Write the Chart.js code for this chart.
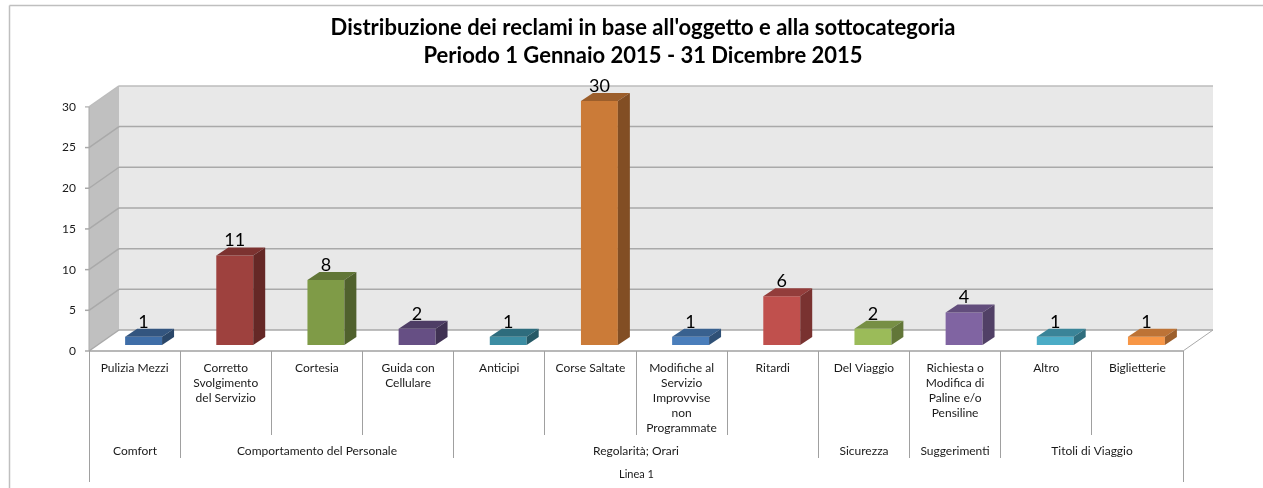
<!DOCTYPE html>
<html>
<head>
<meta charset="utf-8">
<title>Distribuzione dei reclami</title>
<script src="https://cdn.jsdelivr.net/npm/chart.js@4/dist/chart.umd.min.js"></script>
<style>
    html, body { margin: 0; padding: 0; background: #fff; overflow: hidden; }
    canvas { display: block; }
</style>
</head>
<body>
<canvas id="chart" width="1263" height="488"></canvas>
<script>
// Chart data
const categories = [
    ['Pulizia Mezzi'],
    ['Corretto', 'Svolgimento', 'del Servizio'],
    ['Cortesia'],
    ['Guida con', 'Cellulare'],
    ['Anticipi'],
    ['Corse Saltate'],
    ['Modifiche al', 'Servizio', 'Improvvise', 'non', 'Programmate'],
    ['Ritardi'],
    ['Del Viaggio'],
    ['Richiesta o', 'Modifica di', 'Paline e/o', 'Pensiline'],
    ['Altro'],
    ['Biglietterie']
];
const reclami = [1, 11, 8, 2, 1, 30, 1, 6, 2, 4, 1, 1];
const groupNames = ['Comfort', 'Comportamento del Personale', 'Regolarità; Orari', 'Sicurezza', 'Suggerimenti', 'Titoli di Viaggio'];
const groupSizes = [1, 3, 4, 1, 1, 2];
const outerLabel = 'Linea 1';
const titleLines = ["Distribuzione dei reclami in base all'oggetto e alla sottocategoria", 'Periodo 1 Gennaio 2015 - 31 Dicembre 2015'];

// Bar colours: front, top, side
const barFront = ['#3F6EA8', '#9E413E', '#7F9B47', '#664F84', '#3C8DA3', '#CB7B38', '#4A7EBB', '#C0504D', '#9BBB59', '#8064A2', '#4BACC6', '#F79646'];
const barTop = ['#33557F', '#7C3230', '#617637', '#4E3D65', '#2E6C7D', '#9C5E2B', '#39618F', '#933D3B', '#778F44', '#624D7C', '#3A8498', '#BD7336'];
const barSide = ['#2A4769', '#652826', '#50612D', '#403253', '#265966', '#824E24', '#2F5076', '#793230', '#627638', '#514066', '#2F6D7D', '#9C5F2C'];

const FONT = 'Lato, Carlito, sans-serif';
const WALL_DX = 30, WALL_DY = -21;   // back wall offset from the front plane
const BAR_DX = 9, BAR_DY = -6;       // bars stand in the middle of the floor
const SIDE_DX = 12, SIDE_DY = -8;    // depth of one bar
const LINE = '#a0a0a0';

function poly(ctx, points, fill) {
    ctx.beginPath();
    points.forEach((p, i) => i ? ctx.lineTo(p[0], p[1]) : ctx.moveTo(p[0], p[1]));
    ctx.closePath();
    ctx.fillStyle = fill;
    ctx.fill();
}

function line(ctx, x1, y1, x2, y2, color, width) {
    ctx.beginPath();
    ctx.moveTo(x1, y1);
    ctx.lineTo(x2, y2);
    ctx.strokeStyle = color;
    ctx.lineWidth = width;
    ctx.stroke();
}

/**
 * Excel style 3D box: walls, floor, grid and the faces of each bar
 */
const box3d = {
    id: 'box3d',
    afterLayout(chart) {
        // title sits over the whole plot, not over the canvas
        chart.titleBlock.left += 47;
        chart.titleBlock.right += 47;
    },
    beforeDraw(chart) {
        const ctx = chart.ctx;
        line(ctx, 9.5, 5.5, 1263, 5.5, '#bfbfbf', 1.5);
        line(ctx, 9.5, 5.5, 9.5, 488, '#bfbfbf', 1.5);
    },
    beforeDatasetsDraw(chart) {
        const ctx = chart.ctx;
        const { x: xs, y: ys } = chart.scales;
        const l = xs.left, r = xs.right, t = ys.top, b = ys.bottom;

        poly(ctx, [[l + WALL_DX, t + WALL_DY], [r + WALL_DX, t + WALL_DY], [r + WALL_DX, b + WALL_DY], [l + WALL_DX, b + WALL_DY]], '#e8e8e8');
        poly(ctx, [[l, t], [l + WALL_DX, t + WALL_DY], [l + WALL_DX, b + WALL_DY], [l, b]], '#c0c0c0');
        poly(ctx, [[l, b], [l + WALL_DX, b + WALL_DY], [r + WALL_DX, b + WALL_DY], [r, b]], '#ffffff');

        ys.ticks.forEach(tick => {
            const y = ys.getPixelForValue(tick.value);
            const shade = tick.value === 30 ? '#bdbdbd' : '#a9a9a9';
            line(ctx, l + WALL_DX, y + WALL_DY, r + WALL_DX, y + WALL_DY, shade, 1.5);
            line(ctx, l, y, l + WALL_DX, y + WALL_DY, shade, 1.5);
            line(ctx, l - 4, y, l, y, shade, 1.5);
        });
        line(ctx, l, t, l, b, '#a9a9a9', 1);
        line(ctx, r, b, r + WALL_DX, b + WALL_DY, '#a9a9a9', 1);

        // bars are drawn by the library, moved back onto the floor
        ctx.save();
        ctx.translate(BAR_DX, BAR_DY);
    },
    afterDatasetsDraw(chart) {
        const ctx = chart.ctx;
        ctx.restore();

        chart.getDatasetMeta(0).data.forEach((bar, i) => {
            const p = bar.getProps(['x', 'y', 'base', 'width'], true);
            const x1 = p.x - p.width / 2 + BAR_DX, x2 = p.x + p.width / 2 + BAR_DX;
            const top = p.y + BAR_DY, base = p.base + BAR_DY;
            poly(ctx, [[x1, top], [x1 + SIDE_DX, top + SIDE_DY], [x2 + SIDE_DX, top + SIDE_DY], [x2, top]], barTop[i]);
            poly(ctx, [[x2, top], [x2 + SIDE_DX, top + SIDE_DY], [x2 + SIDE_DX, base + SIDE_DY], [x2, base]], barSide[i]);

            ctx.fillStyle = '#000';
            ctx.font = '18px ' + FONT;
            ctx.textAlign = 'center';
            ctx.textBaseline = 'middle';
            ctx.fillText(String(reclami[i]), p.x + BAR_DX, top - 15);
        });
    },
    afterDraw(chart) {
        const ctx = chart.ctx;
        const xs = chart.scales.x;
        const b = chart.scales.y.bottom;
        const edge = i => Math.floor(xs.getPixelForValue(i - 0.5)) + 0.5;

        line(ctx, xs.left, b, xs.right, b, LINE, 1.5);

        for (let i = 0; i <= categories.length; i++) line(ctx, edge(i), b, edge(i), 435, LINE, 1);

        ctx.fillStyle = '#1a1a1a';
        ctx.font = '12px ' + FONT;
        ctx.textAlign = 'center';
        ctx.textBaseline = 'middle';

        let start = 0;
        groupNames.forEach((name, g) => {
            const end = start + groupSizes[g];
            line(ctx, edge(start), 435, edge(start), 458, LINE, 1);
            ctx.fillText(name, (edge(start) + edge(end)) / 2, 451);
            start = end;
        });
        line(ctx, edge(start), 435, edge(start), 458, LINE, 1);

        line(ctx, edge(0), 458, edge(0), 482, LINE, 1);
        line(ctx, edge(start), 458, edge(start), 482, LINE, 1);
        ctx.font = '11px ' + FONT;
        ctx.fillText(outerLabel, (edge(0) + edge(start)) / 2, 474);
    }
};

new Chart(document.getElementById('chart'), {
    type: 'bar',
    data: {
        labels: categories,
        datasets: [{
            data: reclami,
            backgroundColor: barFront,
            barPercentage: 0.405,
            categoryPercentage: 1
        }]
    },
    options: {
        responsive: false,
        animation: false,
        layout: { padding: { left: 9, right: 80, top: 0, bottom: 0 } },
        plugins: {
            legend: { display: false },
            tooltip: { enabled: false },
            title: {
                display: true,
                text: titleLines,
                color: '#000',
                font: { family: FONT, size: 22, weight: 'bold', lineHeight: 1.27 },
                padding: { top: 14, bottom: 37 }
            }
        },
        scales: {
            x: {
                afterFit: scale => { scale.height = 137; },
                grid: { display: false, drawTicks: false },
                border: { display: false },
                ticks: {
                    autoSkip: false,
                    maxRotation: 0,
                    padding: 10,
                    color: '#1a1a1a',
                    font: { family: FONT, size: 12, lineHeight: 1.24 }
                }
            },
            y: {
                min: 0,
                max: 30,
                afterFit: scale => { scale.width = 80; },
                grid: { display: false, drawTicks: false },
                border: { display: false },
                ticks: {
                    stepSize: 5,
                    padding: 13,
                    color: '#1a1a1a',
                    font: { family: FONT, size: 12 }
                }
            }
        }
    },
    plugins: [box3d]
});
</script>
</body>
</html>
